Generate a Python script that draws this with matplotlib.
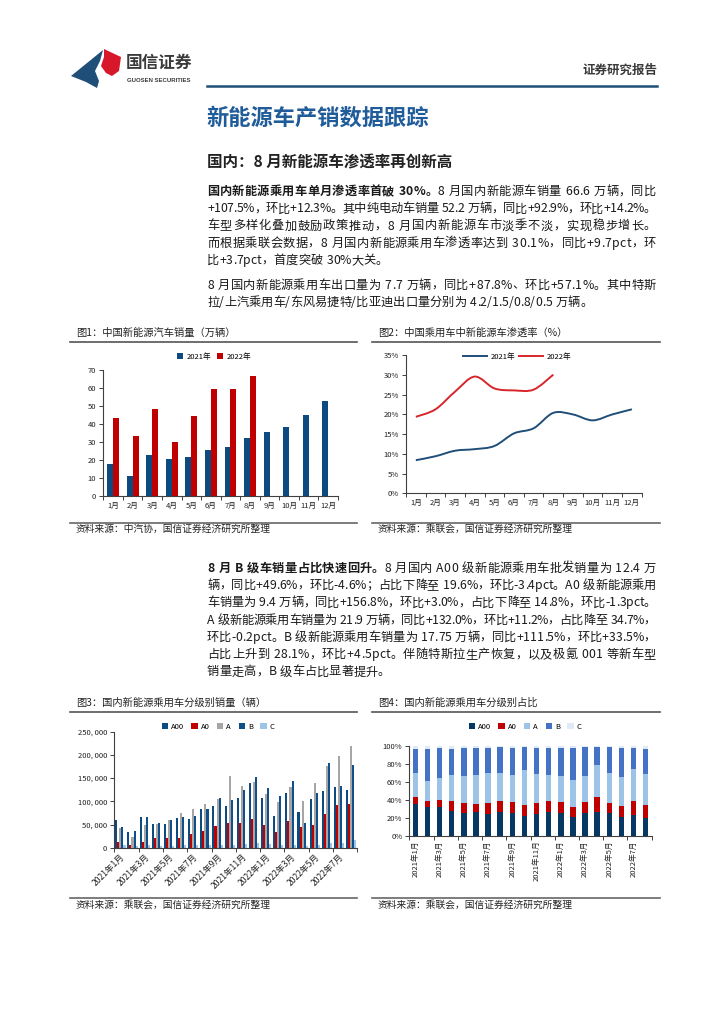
import matplotlib
matplotlib.use('Agg')
import matplotlib.pyplot as plt
import numpy as np
from matplotlib.path import Path
from matplotlib.patches import PathPatch, Polygon
from matplotlib.lines import Line2D

plt.rcParams['font.family'] = ['Noto Sans CJK SC', 'DejaVu Sans']
plt.rcParams['axes.unicode_minus'] = False

W, H = 724, 1024

# ---------------- 数据 ----------------
months12 = ['1月', '2月', '3月', '4月', '5月', '6月', '7月', '8月', '9月', '10月', '11月', '12月']
# 图1 新能源汽车销量（万辆）
sales_2021 = [17.9, 11.0, 22.6, 20.6, 21.7, 25.6, 27.1, 32.1, 35.7, 38.3, 45.0, 53.0]
sales_2022 = [43.1, 33.4, 48.4, 30.0, 44.5, 59.6, 59.3, 66.6]
# 图2 新能源车渗透率（%）
pen_2021 = [8.4, 9.4, 10.8, 11.2, 12.0, 15.2, 16.5, 20.4, 20.0, 18.5, 20.0, 21.3]
pen_2022 = [19.4, 21.3, 25.8, 29.6, 26.6, 26.1, 26.3, 30.1]

# 图3/图4 分级别
seg_months = ['2021年1月', '2021年2月', '2021年3月', '2021年4月', '2021年5月', '2021年6月',
              '2021年7月', '2021年8月', '2021年9月', '2021年10月', '2021年11月', '2021年12月',
              '2022年1月', '2022年2月', '2022年3月', '2022年4月', '2022年5月', '2022年6月',
              '2022年7月', '2022年8月']
seg_names = ['A00', 'A0', 'A', 'B', 'C']
vol_a00 = [59600, 33000, 67000, 52000, 50500, 63000, 62000, 83000, 90000, 90000,
           107000, 140000, 107000, 68000, 118000, 77000, 105600, 122000, 130000, 124000]
vol_a0 = [13000, 6500, 13000, 21500, 21500, 21500, 29500, 36000, 46500, 52500,
          53000, 62000, 49500, 34000, 57000, 44000, 49600, 73000, 92000, 94000]
vol_a = [43000, 23000, 49000, 52000, 60000, 75000, 83000, 94000, 105000, 154000,
         133000, 141500, 115700, 98000, 131000, 100600, 138600, 176000, 197600, 219000]
vol_b = [44500, 36000, 67000, 53000, 60000, 67000, 68000, 83000, 107000, 103000,
         124000, 151600, 128600, 111000, 143000, 53000, 117000, 182500, 133600, 177500]
vol_c = [5700, 3000, 5000, 3000, 4000, 5000, 5000, 5000, 5000, 5000,
         8000, 11000, 8000, 5000, 6000, 4000, 6000, 11000, 11000, 17000]

shr_a00 = [36.0, 32.2, 32.2, 27.8, 25.6, 27.0, 24.8, 27.0, 25.2, 21.9,
           24.8, 27.0, 25.6, 21.1, 25.6, 27.0, 25.2, 21.1, 23.0, 19.6]
shr_a0 = [7.7, 7.1, 8.2, 11.5, 11.1, 9.0, 11.9, 11.9, 12.9, 12.5,
          12.2, 12.3, 12.2, 10.8, 12.2, 16.7, 11.8, 12.6, 15.5, 14.8]
shr_a = [25.9, 22.2, 24.4, 28.8, 30.3, 32.1, 33.7, 31.5, 30.0, 38.9,
         32.3, 28.8, 28.5, 30.7, 28.9, 35.2, 33.0, 31.5, 35.9, 34.7]
shr_b = [27.1, 35.5, 32.6, 28.9, 30.4, 29.3, 27.7, 28.5, 30.0, 25.2,
         28.5, 30.0, 31.1, 35.5, 32.6, 20.0, 28.5, 32.9, 23.7, 28.1]
shr_c = [3.3, 3.0, 2.6, 3.0, 2.6, 2.6, 1.9, 1.1, 1.9, 1.5,
         2.2, 1.9, 2.6, 1.9, 0.7, 1.1, 1.5, 1.9, 1.9, 2.8]

para1 = [
    [('国内新能源乘用车单月渗透率首破 30%。', 'bold'), ('8 月国内新能源车销量 66.6 万辆，同比', 'normal')],
    [('+107.5%，环比+12.3%。其中纯电动车销量 52.2 万辆，同比+92.9%，环比+14.2%。', 'normal')],
    [('车型多样化叠加鼓励政策推动，8 月国内新能源车市淡季不淡，实现稳步增长。', 'normal')],
    [('而根据乘联会数据，8 月国内新能源乘用车渗透率达到 30.1%，同比+9.7pct，环', 'normal')],
    [('比+3.7pct，首度突破 30%大关。', 'normal')],
]
para2 = [
    [('8 月国内新能源乘用车出口量为 7.7 万辆，同比+87.8%、环比+57.1%。其中特斯', 'normal')],
    [('拉/上汽乘用车/东风易捷特/比亚迪出口量分别为 4.2/1.5/0.8/0.5 万辆。', 'normal')],
]
para3 = [
    [('8 月 B 级车销量占比快速回升。', 'bold'), ('8 月国内 A00 级新能源乘用车批发销量为 12.4 万', 'normal')],
    [('辆，同比+49.6%，环比-4.6%；占比下降至 19.6%，环比-3.4pct。A0 级新能源乘用', 'normal')],
    [('车销量为 9.4 万辆，同比+156.8%，环比+3.0%，占比下降至 14.8%，环比-1.3pct。', 'normal')],
    [('A 级新能源乘用车销量为 21.9 万辆，同比+132.0%，环比+11.2%，占比降至 34.7%，', 'normal')],
    [('环比-0.2pct。B 级新能源乘用车销量为 17.75 万辆，同比+111.5%，环比+33.5%，', 'normal')],
    [('占比上升到 28.1%，环比+4.5pct。伴随特斯拉生产恢复，以及极氪 001 等新车型', 'normal')],
    [('销量走高，B 级车占比显著提升。', 'normal')],
]

NAVY = '#0d4a80'
RED = '#c00000'
TXT = '#1a1a1a'

fig = plt.figure(figsize=(W / 100, H / 100), dpi=100)
renderer = fig.canvas.get_renderer()


def fx(x):
    return x / W


def fy(y):
    return 1 - y / H


def add_axes(l, t, r, b):
    return fig.add_axes([l / W, 1 - b / H, (r - l) / W, (b - t) / H])


def hline(x0, x1, y, color, lw):
    fig.add_artist(Line2D([fx(x0), fx(x1)], [fy(y), fy(y)], color=color, lw=lw,
                          transform=fig.transFigure))


def text_line(x0, x1, y, segs, size=8.8, justify=True):
    # 逐字排版，两端对齐
    items = []
    for s, w in segs:
        for ch in s:
            t = fig.text(0, 0, ch, fontsize=size, fontweight=w, color=TXT,
                         ha='left', va='baseline')
            items.append(t)
    em = size * 100 / 72
    widths = []
    for t in items:
        if t.get_text() == ' ':
            widths.append(em * 0.3)
        else:
            widths.append(t.get_window_extent(renderer).width)
    gap = 0
    if justify and len(items) > 1:
        gap = (x1 - x0 - sum(widths)) / (len(items) - 1)
    x = x0
    base = y + em * 0.36
    for t, w in zip(items, widths):
        t.set_position((fx(x), fy(base)))
        x += w + gap


def style_axes(ax):
    for s in ['top', 'right']:
        ax.spines[s].set_visible(False)
    for s in ['left', 'bottom']:
        ax.spines[s].set_color('#404040')
        ax.spines[s].set_linewidth(0.8)
    ax.tick_params(axis='both', labelsize=5.5, colors='#404040', labelcolor='#222222',
                   width=0.7)
    ax.tick_params(axis='y', length=3, pad=2)
    ax.tick_params(axis='x', which='major', length=0, pad=4)
    ax.tick_params(axis='x', which='minor', length=3, width=0.7, colors='#404040')


# ---------------- 页眉 ----------------
blue_logo = [(71, 76), (92, 59), (103, 50), (100, 61), (95, 71), (99, 81), (97, 88), (86, 82)]
red_logo = [(104, 49), (121, 57), (119, 71), (112, 76), (106, 73), (101, 66), (104, 57)]
fig.add_artist(Polygon([(fx(a), fy(b)) for a, b in blue_logo], closed=True,
                       facecolor='#1f4e79', edgecolor='none', transform=fig.transFigure))
fig.add_artist(Polygon([(fx(a), fy(b)) for a, b in red_logo], closed=True,
                       facecolor='#d7182a', edgecolor='none', transform=fig.transFigure))
fig.text(fx(126), fy(63), '国信证券', fontsize=12, fontweight='bold', color='#3a3a3a',
         ha='left', va='center')
fig.text(fx(126.5), fy(80.5), 'GUOSEN SECURITIES', fontsize=4.3, fontweight='bold',
         color='#3a3a3a', ha='left', va='center', family=['Liberation Sans', 'DejaVu Sans'])
fig.text(fx(657), fy(70), '证券研究报告', fontsize=9, fontweight='bold', color='#3a3a3a',
         ha='right', va='center')
hline(207, 657, 86, '#1f4e79', 1.8)

# ---------------- 正文 ----------------
fig.text(fx(206), fy(118), '新能源车产销数据跟踪', fontsize=16, fontweight='bold',
         color='#1f5c99', ha='left', va='center')
fig.text(fx(207), fy(162), '国内：8 月新能源车渗透率再创新高', fontsize=11.2,
         fontweight='bold', color='#222222', ha='left', va='center')

for i, segs in enumerate(para1):
    text_line(207, 656, 190.7 + i * 17.2, segs, justify=i < len(para1) - 1)
for i, segs in enumerate(para2):
    text_line(207, 656, 284.3 + i * 17.2, segs, justify=i < len(para2) - 1)
for i, segs in enumerate(para3):
    text_line(207, 656, 567.3 + i * 17.3, segs, justify=i < len(para3) - 1)

# 图表标题与来源
hdr = dict(fontsize=7.4, color='#222222', ha='left', va='center')
src = dict(fontsize=7, color='#222222', ha='left', va='center')
fig.text(fx(76), fy(333), '图1：中国新能源汽车销量（万辆）', **hdr)
fig.text(fx(378), fy(333), '图2：中国乘用车中新能源车渗透率（%）', **hdr)
hline(70, 357, 341.5, '#555555', 1.2)
hline(372, 660, 341.5, '#555555', 1.2)
hline(70, 357, 522.5, '#666666', 1.2)
hline(372, 660, 522.5, '#666666', 1.2)
fig.text(fx(76), fy(529), '资料来源：中汽协，国信证券经济研究所整理', **src)
fig.text(fx(378), fy(529), '资料来源：乘联会，国信证券经济研究所整理', **src)

fig.text(fx(76), fy(703), '图3：国内新能源乘用车分级别销量（辆）', **hdr)
fig.text(fx(378), fy(703), '图4：国内新能源乘用车分级别占比', **hdr)
hline(70, 357, 711.7, '#555555', 1.2)
hline(372, 660, 711.7, '#555555', 1.2)
hline(70, 357, 898, '#666666', 1.2)
hline(372, 660, 898, '#666666', 1.2)
fig.text(fx(76), fy(905), '资料来源：乘联会，国信证券经济研究所整理', **src)
fig.text(fx(378), fy(905), '资料来源：乘联会，国信证券经济研究所整理', **src)

leg_kw = dict(frameon=False, fontsize=5.5, handletextpad=0.4, borderaxespad=0,
              bbox_transform=fig.transFigure, loc='center')

# ---------------- 图1 ----------------
ax1 = add_axes(103.3, 370, 338, 496)
x12 = np.arange(len(months12))
ax1.bar(x12 - 0.15, sales_2021, 0.3, color=NAVY, label='2021年')
ax1.bar(np.arange(len(sales_2022)) + 0.15, sales_2022, 0.3, color=RED, label='2022年')
ax1.set_xlim(-0.5, 11.5)
ax1.set_ylim(0, 70)
ax1.set_yticks(range(0, 71, 10))
ax1.set_xticks(x12)
ax1.set_xticklabels(months12)
ax1.set_xticks(np.arange(-0.5, 12, 1), minor=True)
style_axes(ax1)
ax1.legend(ncol=2, bbox_to_anchor=(fx(214), fy(356.7)), handlelength=0.8, handleheight=0.8,
           columnspacing=0.8, **leg_kw)

# ---------------- 图2 ----------------
def smooth_path(xs, ys):
    pts = np.column_stack([xs, ys]).astype(float)
    n = len(pts)
    verts = [pts[0]]
    codes = [Path.MOVETO]
    for i in range(n - 1):
        p0 = pts[i - 1] if i > 0 else pts[i]
        p1 = pts[i]
        p2 = pts[i + 1]
        p3 = pts[i + 2] if i + 2 < n else pts[i + 1]
        verts += [p1 + (p2 - p0) / 6, p2 - (p3 - p1) / 6, p2]
        codes += [Path.CURVE4] * 3
    return Path(verts, codes)


ax2 = add_axes(406, 355.3, 641.7, 493.3)
ax2.add_patch(PathPatch(smooth_path(np.arange(len(pen_2021)), pen_2021), fill=False,
                        edgecolor='#1f4e79', lw=1.4))
ax2.add_patch(PathPatch(smooth_path(np.arange(len(pen_2022)), pen_2022), fill=False,
                        edgecolor='#d7262b', lw=1.4))
ax2.set_xlim(-0.5, 11.5)
ax2.set_ylim(0, 35)
ax2.set_yticks(range(0, 36, 5))
ax2.set_yticklabels([f'{v}%' for v in range(0, 36, 5)])
ax2.set_xticks(x12)
ax2.set_xticklabels(months12)
ax2.set_xticks(np.arange(-0.5, 12, 1), minor=True)
style_axes(ax2)
h21 = Line2D([], [], color='#1f4e79', lw=1.4)
h22 = Line2D([], [], color='#d7262b', lw=1.4)
ax2.legend([h21, h22], ['2021年', '2022年'], ncol=2, bbox_to_anchor=(fx(517), fy(356.7)),
           handlelength=3.2, columnspacing=0.5, **leg_kw)

# ---------------- 图3 ----------------
ax3 = add_axes(114.3, 731.7, 357.3, 847.7)
x20 = np.arange(len(seg_months))
vols = [vol_a00, vol_a0, vol_a, vol_b, vol_c]
vcolors = ['#0d4a80', '#c00000', '#a6a6a6', '#0f4f8c', '#9dc3e6']
bw = 0.17
for k, (v, c, nm) in enumerate(zip(vols, vcolors, seg_names)):
    ax3.bar(x20 + (k - 2) * bw, v, bw, color=c, label=nm)
ax3.set_xlim(-0.5, 19.5)
ax3.set_ylim(0, 250000)
ax3.set_yticks(range(0, 250001, 50000))
ax3.set_yticklabels([f'{v:,}'.replace(',', ', ') for v in range(0, 250001, 50000)])
ax3.set_xticks(x20[::2])
ax3.set_xticklabels(seg_months[::2], rotation=45, ha='right', rotation_mode='anchor')
ax3.set_xticks(np.arange(-0.5, 20, 2), minor=True)
style_axes(ax3)
ax3.tick_params(axis='x', which='major', pad=3, labelsize=6.2)
ax3.legend(ncol=5, bbox_to_anchor=(fx(218), fy(726.7)), handlelength=0.8, handleheight=0.8,
           columnspacing=1.0, **leg_kw)

# ---------------- 图4 ----------------
ax4 = add_axes(409.3, 746, 651.7, 836)
shares = [shr_a00, shr_a0, shr_a, shr_b, shr_c]
scolors = ['#073763', '#c00000', '#9dc3e6', '#4472c4', '#deebf7']
bottom = np.zeros(len(seg_months))
for v, c, nm in zip(shares, scolors, seg_names):
    ax4.bar(x20, v, 0.45, bottom=bottom, color=c, label=nm)
    bottom += np.array(v)
ax4.set_xlim(-0.5, 19.5)
ax4.set_ylim(0, 100)
ax4.set_yticks(range(0, 101, 20))
ax4.set_yticklabels([f'{v}%' for v in range(0, 101, 20)])
ax4.set_xticks(x20[::2])
ax4.set_xticklabels(seg_months[::2], rotation=90, ha='center', va='top')
ax4.set_xticks(np.arange(-0.5, 20, 2), minor=True)
style_axes(ax4)
ax4.tick_params(axis='x', which='major', pad=3)
ax4.legend(ncol=5, bbox_to_anchor=(fx(525), fy(726.7)), handlelength=0.8, handleheight=0.8,
           columnspacing=1.0, **leg_kw)

fig.savefig('out.png', dpi=100)
